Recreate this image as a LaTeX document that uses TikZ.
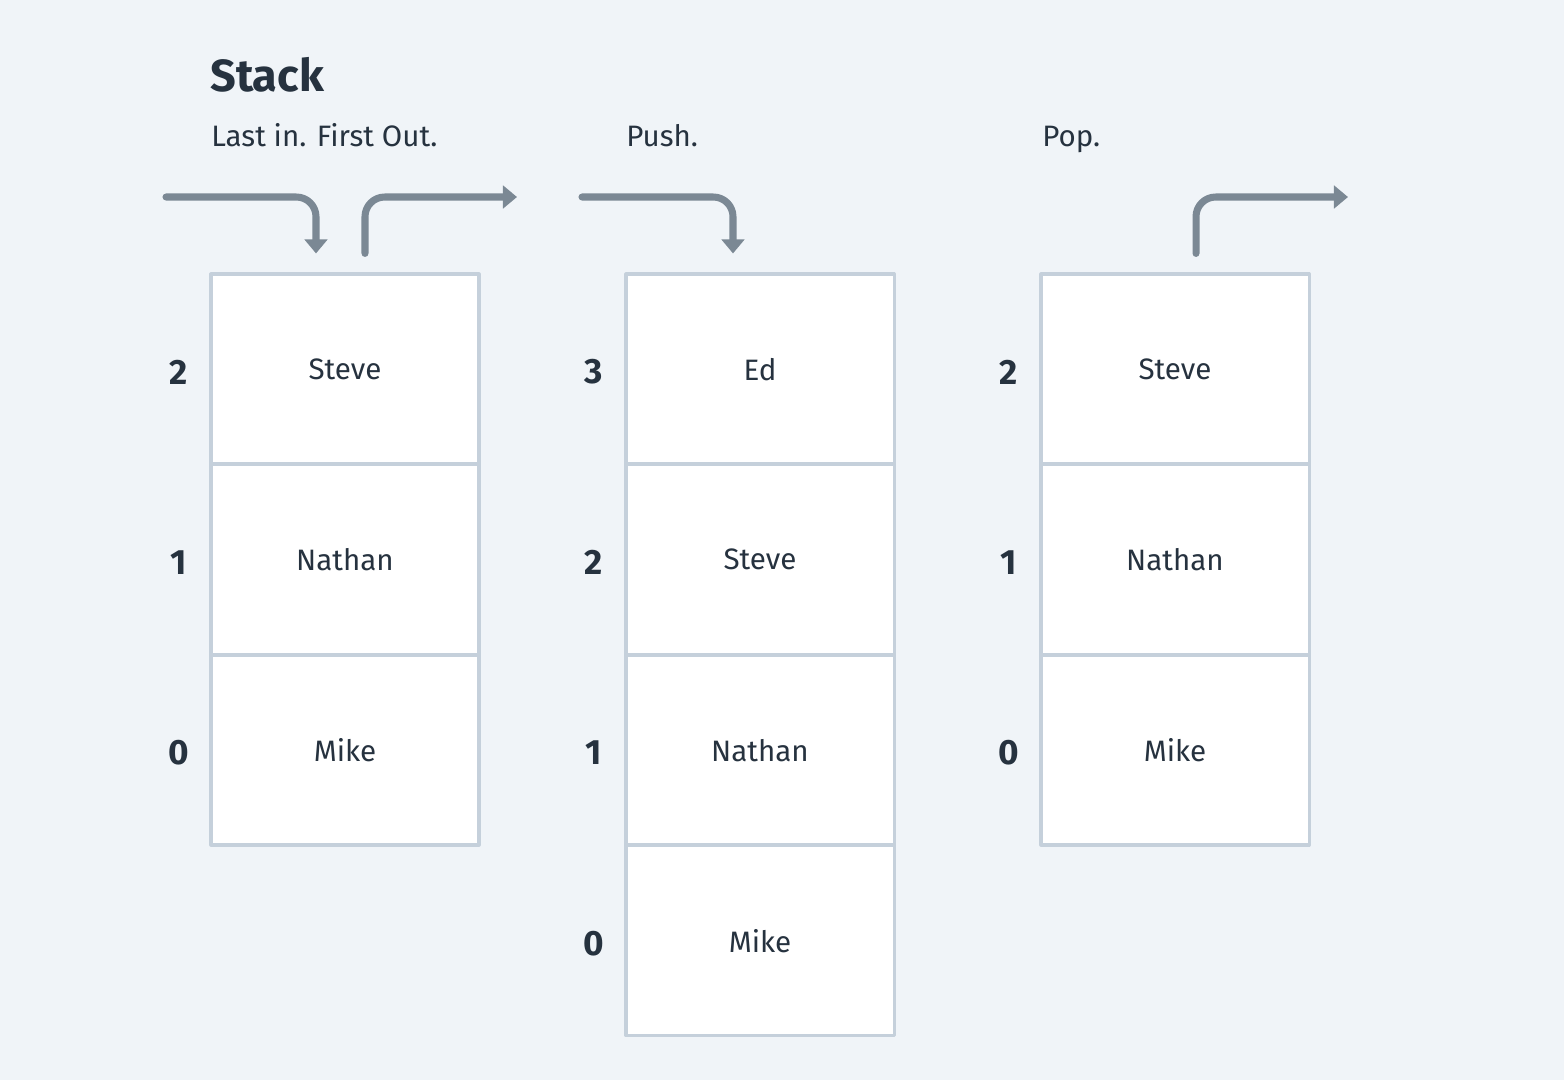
\documentclass[tikz,border=0pt]{standalone}
\usepackage{fontspec}
\setmainfont{Fira Sans}
\usetikzlibrary{arrows.meta,positioning,calc}
\definecolor{stackbg}{HTML}{F0F4F8}
\definecolor{cellline}{HTML}{C5D0DB}
\definecolor{arrowgrey}{HTML}{7B8894}
\definecolor{inktext}{HTML}{26323F}

\tikzset{
  cell/.style={draw=cellline, fill=white, line width=2.2pt,
    minimum width=6.7cm, minimum height=4.75cm, inner sep=0pt,
    text depth=0pt, font=\fontsize{21}{25}\selectfont, text=inktext},
  slotnum/.style={font=\bfseries\fontsize{25}{30}\selectfont, text=inktext},
  caption/.style={anchor=base west, inner sep=0pt,
    font=\fontsize{21}{25}\selectfont, text=inktext},
  flow/.style={draw=arrowgrey, line width=5pt, rounded corners=14pt,
    line cap=round, -{Triangle[length=10pt,width=16pt]}}
}

% One column of cells, listed from the top; slots are numbered from the bottom.
\newcommand{\stackcolumn}[4]{%
  \foreach \entry [count=\row] in {#4} {
    \pgfmathtruncatemacro{\slot}{#3-\row}
    \node[cell] (#1-\row) at (#2,{369+190.5*(\row-1)}) {\entry};
    \node[slotnum] (#1-num-\row) at ($(#1-\row.west)+(-31,3)$) {\slot};
  }%
}

\begin{document}
\begin{tikzpicture}[x=0.025cm, y=-0.025cm, line join=round]
  \fill[stackbg] (0,0) rectangle (1564,1080);
  \useasboundingbox (0,0) rectangle (1564,1080);

  % Headings
  \node[caption, font=\bfseries\fontsize{32}{38}\selectfont] (title) at (210,91) {Stack};
  \node[caption] (lifo-text) at (211,146) {Last in. First Out.};
  \node[caption] (push-text) at (626,146) {Push.};
  \node[caption] (pop-text) at (1042,146) {Pop.};

  % The three stacks
  \stackcolumn{lifo}{345}{3}{Steve,Nathan,Mike}
  \stackcolumn{push}{760}{4}{Ed,Steve,Nathan,Mike}
  \stackcolumn{pop}{1175}{3}{Steve,Nathan,Mike}

  % Arrows in and out
  \coordinate (lifo-in)  at (166,197);
  \coordinate (lifo-out) at (517,197);
  \coordinate (push-in)  at (582,197);
  \coordinate (pop-out)  at (1348,197);

  \draw[flow] (lifo-in) -| ($(lifo-1.north)+(-29,-19)$);
  \draw[flow] ($(lifo-1.north)+(20,-19)$) |- (lifo-out);
  \draw[flow] (push-in) -| ($(push-1.north)+(-27,-19)$);
  \draw[flow] ($(pop-1.north)+(21,-19)$) |- (pop-out);
\end{tikzpicture}
\end{document}
